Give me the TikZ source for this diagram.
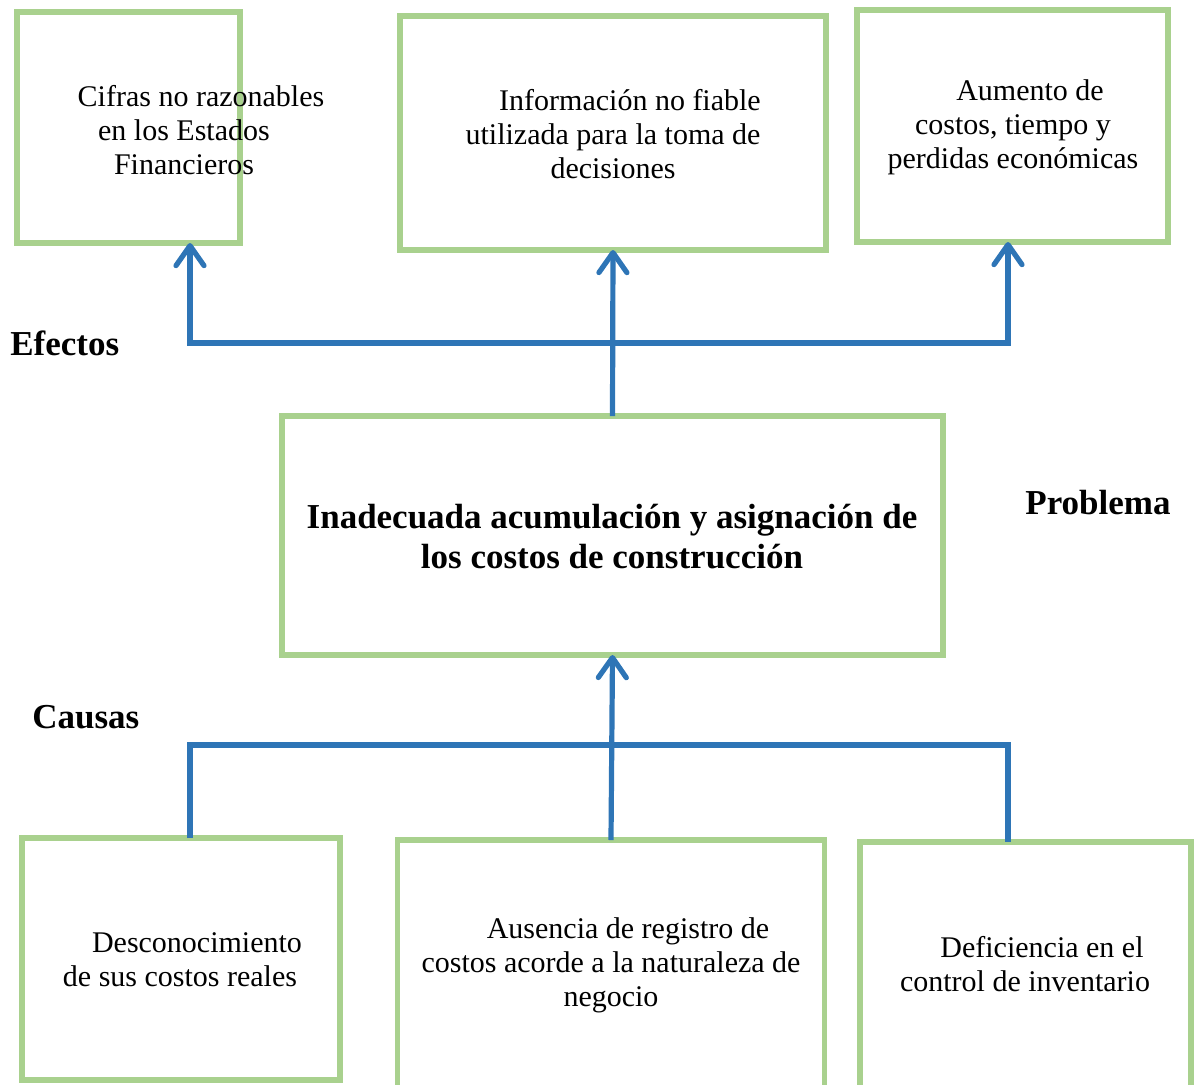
\documentclass[tikz,border=0pt]{standalone}
\usepackage{fontspec}
\setmainfont{Liberation Serif}
\usetikzlibrary{arrows.meta}
\definecolor{boxGreen}{RGB}{169,209,142}
\definecolor{linkBlue}{RGB}{46,117,182}
\tikzstyle{arbol} = [x = .5pt, y = -.5pt]
\tikzstyle{boxStyle} = [draw=boxGreen, line width=2.6pt, fill=white, inner sep=0, outer sep=0]
\tikzstyle{boxText} = [align=center, inner sep=0, font=\fontsize{15pt}{17pt}\selectfont]
\tikzstyle{headText} = [anchor=west, inner sep=0, font=\fontsize{17.5pt}{20pt}\selectfont\bfseries]
\tikzstyle{problemText} = [align=center, inner sep=0, font=\fontsize{17.5pt}{20pt}\selectfont\bfseries]
\tikzstyle{linkStyle} = [draw=linkBlue, line width=2.6pt]
\tikzstyle{arrowStyle} = [linkStyle, -{Straight Barb[length=10pt, width=14pt, round]}]
\newcommand{\firstIndent}{\hspace*{17pt}}
\newcommand{\greenBox}[5]{\node [boxStyle, minimum width = #4 * .5pt, minimum height = #5 * .5pt] (#1) at (#2, #3) {};}

\begin{document}
\begin{tikzpicture}[arbol]
            \useasboundingbox (0,0) rectangle (1196,1084);
            \clip (0,0) rectangle (1196,1084);

            % efectos
            \greenBox{efecto1}{128.5}{127.5}{223}{231}
            \greenBox{efecto2}{613}{133}{426}{234}
            \greenBox{efecto3}{1012.5}{126}{311}{232}
            \node [boxText] (efecto1Text) at (184,130) {\firstIndent Cifras no razonables\\en los Estados\\Financieros};
            \node [boxText] (efecto2Text) at (613,134) {\firstIndent Información no fiable\\utilizada para la toma de\\decisiones};
            \node [boxText] (efecto3Text) at (1013,127.5) {\firstIndent Aumento de\\costos, tiempo y\\perdidas económicas};

            % problema
            \greenBox{problema}{612.5}{535.5}{661}{239}
            \node [problemText] (problemaText) at (612,537) {Inadecuada acumulación y asignación de\\los costos de construcción};

            % causas
            \greenBox{causa1}{181}{959}{318}{242}
            \greenBox{causa2}{611}{970}{427}{260}
            \greenBox{causa3}{1025.5}{972}{331}{260}
            \node [boxText] (causa1Text) at (180,959.5) {\firstIndent Desconocimiento\\de sus costos reales};
            \node [boxText] (causa2Text) at (611,965) {\firstIndent Ausencia de registro de\\costos acorde a la naturaleza de\\negocio};
            \node [boxText] (causa3Text) at (1025,964.5) {\firstIndent Deficiencia en el\\control de inventario};

            \node [headText] (efectos) at (10,343) {Efectos};
            \node [headText] (problemaLabel) at (1025,503) {Problema};
            \node [headText] (causas) at (32,717) {Causas};

            \coordinate (efectoEje1) at (190,343);
            \coordinate (efectoEje3) at (1008,343);
            \draw [arrowStyle] (problema.north |- efectoEje1) -- (efectoEje1) -- (efectoEje1 |- efecto1.south);
            \draw [arrowStyle] (problema.north |- efectoEje1) -- (efectoEje3) -- (efectoEje3 |- efecto3.south);
            \draw [arrowStyle] (problema.north) -- (efecto2.south);

            \coordinate (causaEje1) at (190,745);
            \coordinate (causaEje3) at (1008,745);
            \draw [linkStyle] (causaEje1 |- causa1.north) -- (causaEje1) -- (causaEje3) -- (causaEje3 |- causa3.north);
            \draw [arrowStyle] (causa2.north) -- (problema.south);
          \end{tikzpicture}
\end{document}
